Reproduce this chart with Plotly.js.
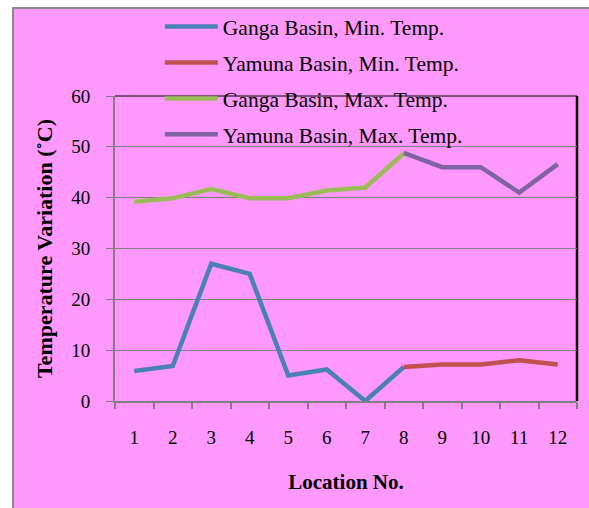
<!DOCTYPE html>
<html>
<head>
<meta charset="utf-8">
<script src="https://cdn.plot.ly/plotly-3.0.1.min.js"></script>
<style>
html,body{margin:0;padding:0;background:#ffffff;}
#frame{position:absolute;left:12px;top:7px;width:577px;height:501px;box-sizing:border-box;border-left:2px solid #8c8c8c;border-top:2px solid #8c8c8c;background:#ff99ff;overflow:hidden;}
#chart{position:absolute;left:0;top:0;width:575px;height:499px;}
</style>
</head>
<body>
<div id="frame"><div id="chart"></div></div>
<script>
const locations = ['1','2','3','4','5','6','7','8','9','10','11','12'];
const gangaMin  = [5.9, 6.9, 27.0, 25.0, 5.0, 6.2, 0.0, 6.7, null, null, null, null];
const yamunaMin = [null, null, null, null, null, null, null, 6.7, 7.2, 7.2, 8.0, 7.2];
const gangaMax  = [39.2, 39.9, 41.7, 39.9, 39.9, 41.4, 42.0, 48.7, null, null, null, null];
const yamunaMax = [null, null, null, null, null, null, null, 48.8, 46.0, 46.0, 41.0, 46.6];
const seriesNames = ['Ganga Basin, Min. Temp.', 'Yamuna Basin, Min. Temp.', 'Ganga Basin, Max. Temp.', 'Yamuna Basin, Max. Temp.'];
const seriesColors = ['#4a7fb8', '#c0504d', '#9bbb59', '#8064a2'];
const yTicks = [0, 10, 20, 30, 40, 50, 60];

const seriesData = [gangaMin, yamunaMin, gangaMax, yamunaMax];
const traces = seriesData.map((d, i) => ({
  type: 'scatter', mode: 'lines', x: locations, y: d, name: seriesNames[i],
  legendgroup: 'g' + i,
  line: {color: seriesColors[i], width: 4.5}, connectgaps: false, hoverinfo: 'x+y+name'
}));

const serif = 'Liberation Serif, Times New Roman, serif';
const layout = {
  width: 575, height: 499,
  paper_bgcolor: 'rgba(0,0,0,0)', plot_bgcolor: 'rgba(0,0,0,0)',
  margin: {l: 101, r: 12, t: 87, b: 107, pad: 0, autoexpand: false},
  font: {family: serif, color: '#000000', size: 19},
  showlegend: true,
  legend: {x: 0.097, xanchor: 'left', y: 1.295, yanchor: 'top', bgcolor: 'rgba(0,0,0,0)',
           font: {family: serif, size: 21.5, color: '#000000'}, tracegroupgap: 5, itemwidth: 53},
  xaxis: {
    type: 'category', range: [-0.5, 11.5], tickson: 'boundaries',
    ticks: 'outside', ticklen: 6, tickcolor: '#808080', tickwidth: 2,
    showline: true, linecolor: '#808080', linewidth: 2, showgrid: false, zeroline: false,
    ticklabelstandoff: 18,
    tickfont: {family: serif, size: 19},
    title: {text: '<b>Location No.</b>', font: {family: serif, size: 21}, standoff: 28}
  },
  yaxis: {
    range: [0, 60], tickvals: yTicks, ticktext: yTicks.map(String),
    ticks: 'outside', ticklen: 7, tickcolor: '#808080', tickwidth: 1,
    showline: true, linecolor: '#808080', linewidth: 2,
    showgrid: true, gridcolor: '#808080', gridwidth: 1, zeroline: false,
    ticklabelstandoff: 12,
    tickfont: {family: serif, size: 19},
    title: {text: '<b>Temperature Variation (˚C)</b>', font: {family: serif, size: 22}, standoff: 13}
  },
  shapes: [
    {type: 'line', xref: 'paper', yref: 'paper', x0: 0, x1: 1, y0: 1, y1: 1, line: {color: '#000000', width: 1}, layer: 'below'},
    {type: 'line', xref: 'paper', yref: 'paper', x0: 1, x1: 1, y0: 0, y1: 1, line: {color: '#000000', width: 2.5}, layer: 'below'}
  ]
};
Plotly.newPlot('chart', traces, layout, {displayModeBar: false, staticPlot: true});
</script>
</body>
</html>
